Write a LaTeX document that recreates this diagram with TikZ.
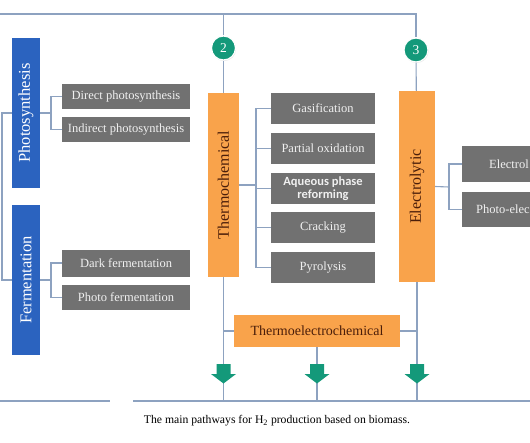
\documentclass[tikz,border=0pt]{standalone}
\usepackage{fontspec}
\usepackage{graphicx}
\usepackage{tikz}
\usetikzlibrary{shadows}
\setmainfont{Liberation Serif}
\newfontfamily\calib{Carlito}

\definecolor{pathblue}{HTML}{2B63BF}
\definecolor{pathgray}{HTML}{717171}
\definecolor{pathorange}{HTML}{F9A34B}
\definecolor{pathbrown}{HTML}{4B1E0A}
\definecolor{pathgreen}{HTML}{14997A}
\definecolor{pathline}{HTML}{8DA2C0}

\begin{document}
\begin{tikzpicture}[x=1pt,y=-1pt,
  wire/.style={draw=pathline, line width=1.1pt},
  bluebox/.style={fill=pathblue, text=white, minimum width=28pt, minimum height=150pt, inner sep=0pt, font=\fontsize{16.5}{18}\selectfont},
  graybox/.style={fill=pathgray, text=white!94!black, minimum width=128pt, minimum height=25pt, inner sep=0pt, font=\fontsize{12.5}{14}\selectfont},
  orangebox/.style={fill=pathorange, text=pathbrown, inner sep=0pt, font=\fontsize{16}{18}\selectfont},
  numdot/.style={shape=circle, fill=pathgreen, draw=white, line width=1.2pt, minimum size=24pt, inner sep=0pt, text=white, font=\fontsize{13.5}{15}\selectfont, drop shadow={opacity=0.2, shadow xshift=0.6pt, shadow yshift=-1pt}},
  greenarrow/.style={fill=pathgreen}]
\clip (0,0) rectangle (530,442);
\fill[white] (0,0) rectangle (530,442);
% boxes
\node[bluebox] (P) at (26,113) {\rotatebox{90}{Photosynthesis}};
\node[bluebox] (F) at (26,280) {\rotatebox{90}{Fermentation}};
\node[graybox] (P1) at (126,96.5) {Direct photosynthesis};
\node[graybox] (P2) at (126,129.5) {Indirect photosynthesis};
\node[graybox, minimum height=27pt] (F1) at (126,263) {Dark fermentation};
\node[graybox] (F2) at (126,297.5) {Photo fermentation};
\node[orangebox, minimum width=31pt, minimum height=184pt] (T) at (223.5,185) {\rotatebox{90}{Thermochemical}};
\node[graybox, minimum width=104pt, minimum height=31pt] (T1) at (323,108.5) {Gasification};
\node[graybox, minimum width=104pt, minimum height=31pt] (T2) at (323,148.5) {Partial oxidation};
\node[graybox, minimum width=104pt, minimum height=31pt, align=center, font=\calib\bfseries\fontsize{12.5}{13}\selectfont] (T3) at (323,188.5) {Aqueous phase\\reforming};
\node[graybox, minimum width=104pt, minimum height=31pt] (T4) at (323,227.5) {Cracking};
\node[graybox, minimum width=104pt, minimum height=31pt] (T5) at (323,267.5) {Pyrolysis};
\node[orangebox, minimum width=36pt, minimum height=191pt] (E) at (417,186.5) {\rotatebox{90}{Electrolytic}};
\node[graybox, anchor=west, minimum height=36pt, inner xsep=27pt, text width=98pt, align=left] (E1) at (462,164) {Electrol};
\node[graybox, anchor=west, minimum height=35pt, inner xsep=14pt, text width=124pt, align=left] (E2) at (462,209.5) {Photo-elec};
\node[orangebox, minimum width=166pt, minimum height=32pt, font=\fontsize{14}{16}\selectfont] (TE) at (317,331) {Thermoelectrochemical};
\node[numdot] (N2) at (223.5,48) {2};
\node[numdot] (N3) at (416,50) {3};
% joints
\coordinate (top) at (0,14);
\coordinate (left) at (2,113);
\coordinate (pj) at (51,113);
\coordinate (fj) at (51,280);
\coordinate (tj) at (256,185);
\coordinate (ej) at (449,187);
\coordinate (b1) at (223.5,401);
\coordinate (b2) at (317,401);
\coordinate (b3) at (417,401);
% connectors
\draw[wire] (top) -| (N3);
\draw[wire] (N2) -- (N2 |- top);
\draw[wire] (N2) -- (T);
\draw[wire] (N3) -- (E);
\draw[wire] (P.west) -| (left) |- (F.west);
\draw[wire] (P.east) -- (pj);
\draw[wire] (P1.west) -| (pj) |- (P2.west);
\draw[wire] (F.east) -- (fj);
\draw[wire] (F1.west) -| (fj) |- (F2.west);
\draw[wire] (T.east) -- (tj);
\draw[wire] (T1.west) -| (tj) |- (T5.west);
\draw[wire] (T2.west) -- (T2.west -| tj);
\draw[wire] (T3.west) -- (T3.west -| tj);
\draw[wire] (T4.west) -- (T4.west -| tj);
\draw[wire] (E.east) -- (ej);
\draw[wire] (E1.west) -| (ej) |- (E2.west);
\draw[wire] (T.south) -- (b1);
\draw[wire] (E.south) -- (b3);
\draw[wire] (TE.south) -- (b2);
\draw[wire] (TE.west) -- (TE.west -| b1);
\draw[wire] (TE.east) -- (TE.east -| b3);
\draw[wire] (0,401) -- (110,401);
\draw[wire] (133,401) -- (530,401);
% arrows
\foreach \ax in {223.5,317,417}
  \fill[greenarrow] (\ax-7,364) -- (\ax+7,364) -- (\ax+7,374) -- (\ax+12.5,374)
    -- (\ax,383.5) -- (\ax-12.5,374) -- (\ax-7,374) -- cycle;
\node[font=\fontsize{11.7}{13}\selectfont] (cap) at (277,421) {The main pathways for H\textsubscript{2} production based on biomass.};
\end{tikzpicture}
\end{document}
